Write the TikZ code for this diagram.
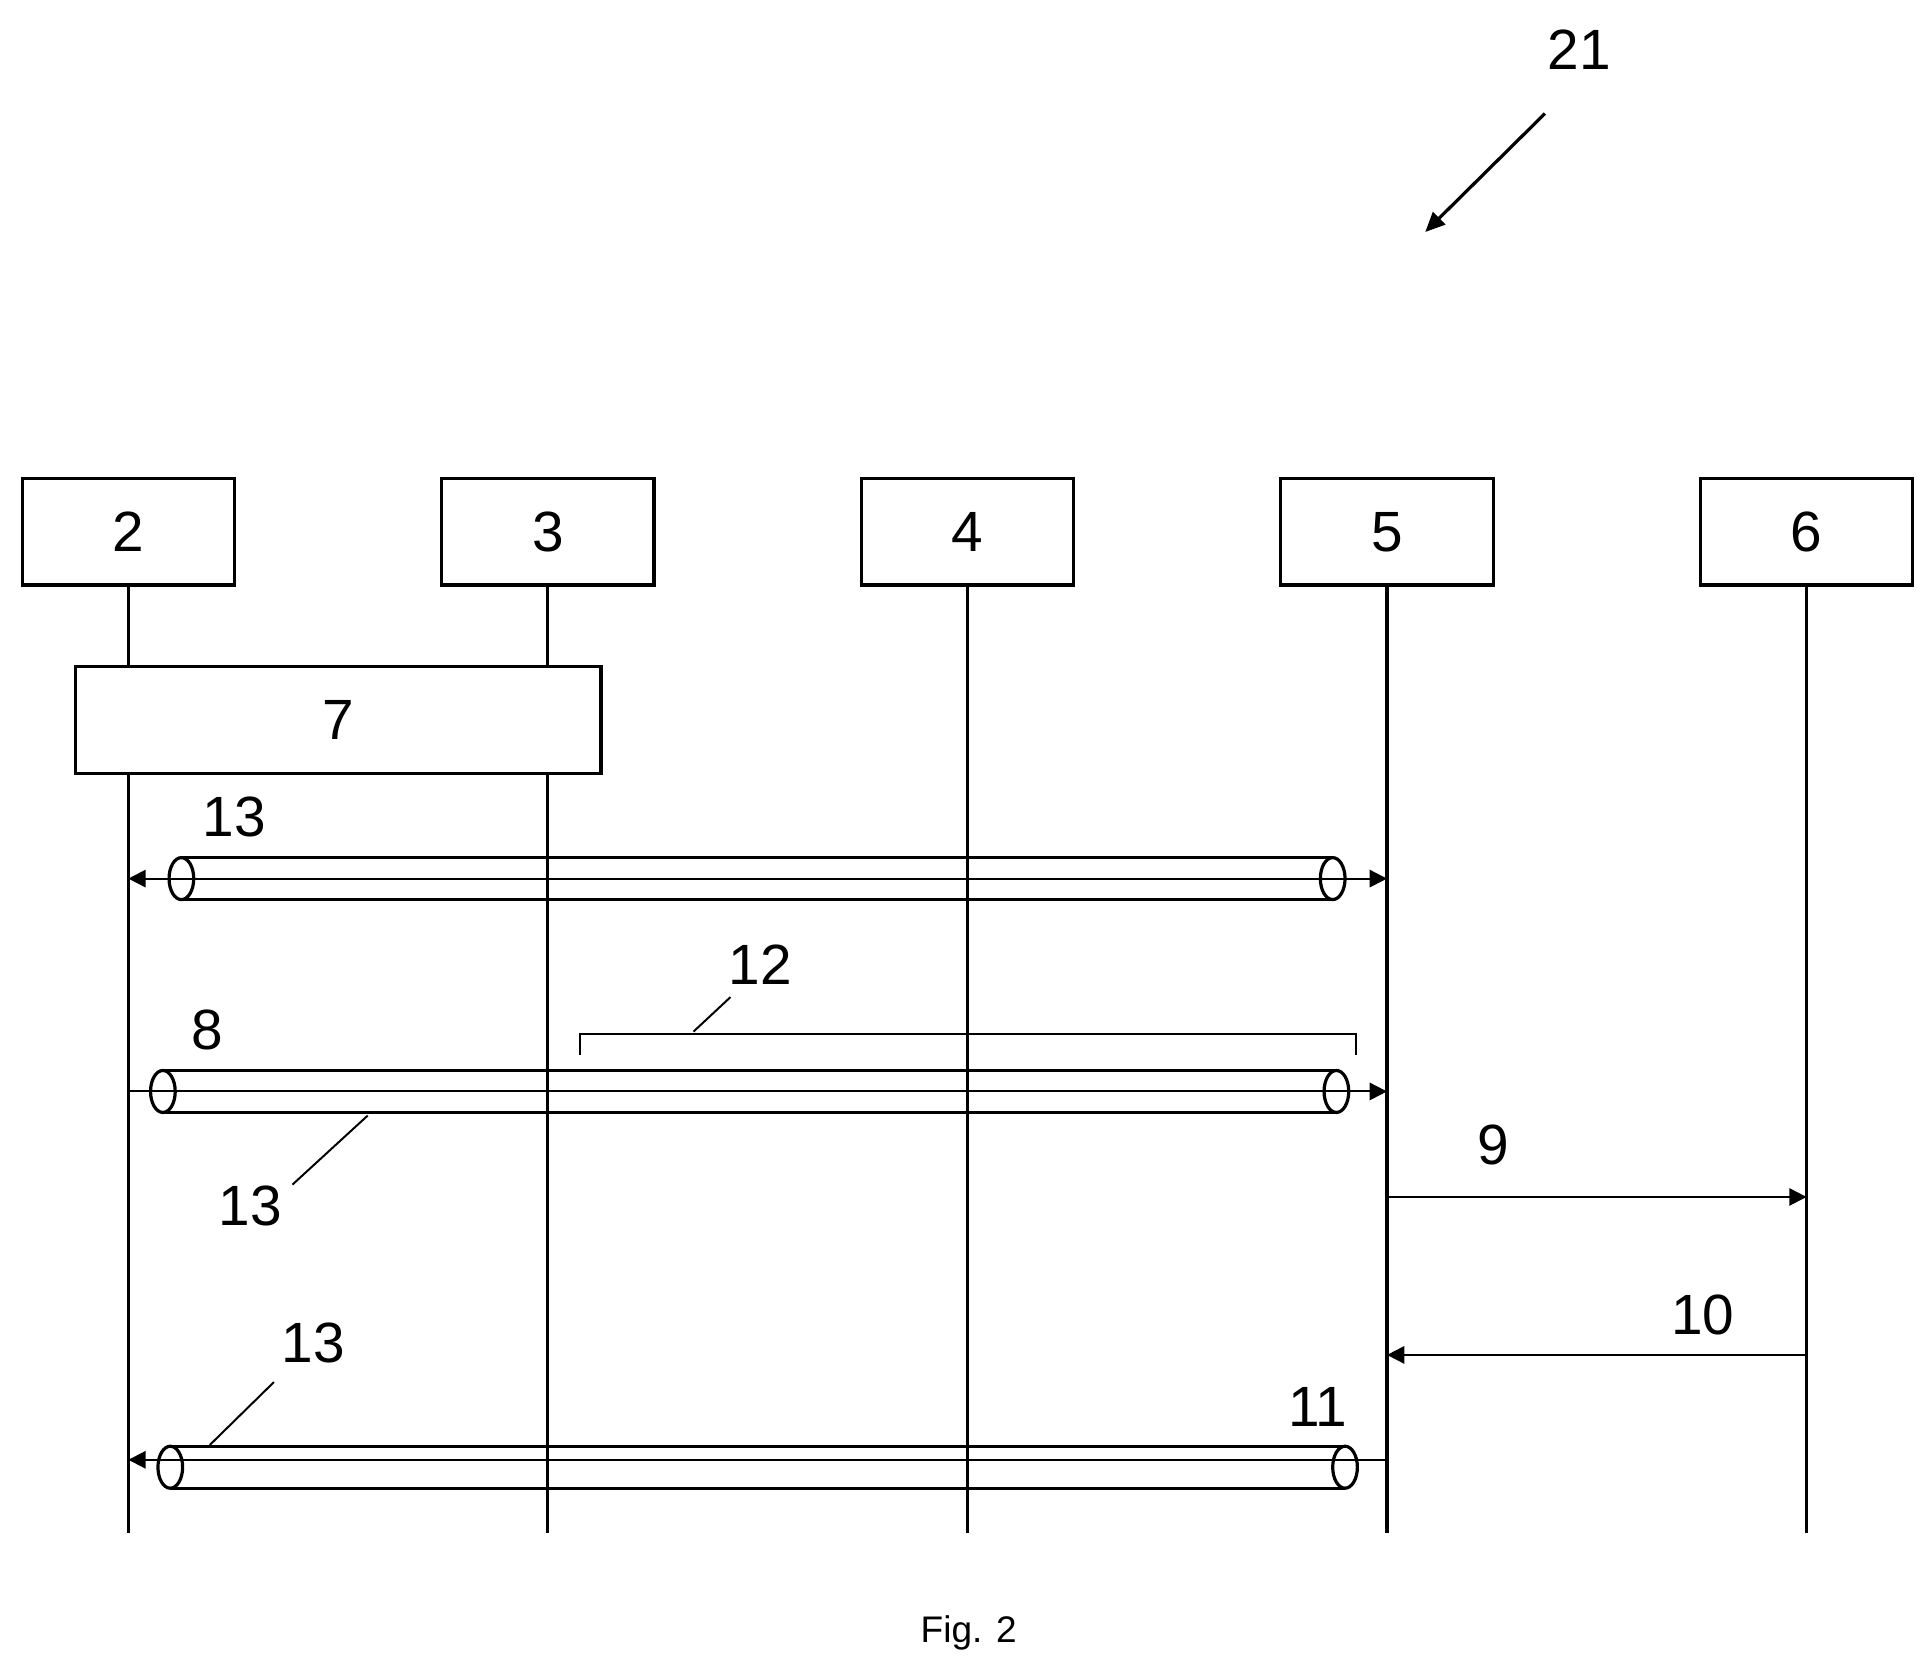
\documentclass[tikz,border=0pt]{standalone}
\usepackage{fontspec}
\setmainfont{Liberation Sans}
\usetikzlibrary{arrows.meta}
\begin{document}
\begin{tikzpicture}[x=1pt,y=-1pt,line width=2.6pt,
  lbl/.style={font=\fontsize{46}{50}\selectfont,inner sep=0},
  box/.style={draw,fill=white,line width=2.6pt,minimum width=172,minimum height=86,inner sep=0,font=\fontsize{46}{50}\selectfont},
  life/.style={line width=2.6pt},
  msg/.style={line width=1.6pt,-{Triangle[length=14,width=14]}},
  thin/.style={line width=1.6pt}]
\useasboundingbox (0,0) rectangle (1560,1352);
\foreach \i/\x in {2/104,3/444,4/784,5/1124,6/1464}{
  \node[box] (b\i) at (\x,431) {\i};
  \coordinate (e\i) at (\x,1242);
  \draw[life] (b\i.south) -- (e\i);
}
\node[box,minimum width=426,minimum height=87] (b7) at (274,583.5) {7};
% cylinders
\newcommand{\mycyl}[4]{% x1 x2 yc ry
  \draw (#1,#3-#4) -- (#2,#3-#4) (#1,#3+#4) -- (#2,#3+#4);
  \draw (#1,#3) ellipse [x radius=10,y radius=#4];
  \draw (#2,#3) ellipse [x radius=10,y radius=#4];}
\mycyl{147}{1080}{712}{17}
\coordinate (m1) at (1124,712);
\coordinate (n1) at (104,712);
\draw[msg,{Triangle[length=14,width=14]}-{Triangle[length=14,width=14]}] (n1) -- (m1);
\node[lbl] (t13a) at (190,662) {13};
\mycyl{132}{1083}{884.5}{17}
\coordinate (n2) at (104,884.5);
\coordinate (m2) at (1124,884.5);
\draw[msg] (n2) -- (m2);
\node[lbl] (t8) at (168,835) {8};
\draw[thin] (470,855) -- (470,838) -- (1099,838) -- (1099,855);
\node[lbl] (t12) at (616,782) {12};
\draw[thin] (562,836) -- (592,808);
\node[lbl] (t13b) at (203,977) {13};
\draw[thin] (237,960) -- (298,904);
\coordinate (a9) at (1124,970);
\coordinate (z9) at (1464,970);
\draw[msg] (a9) -- (z9);
\node[lbl] (t9) at (1210,928) {9};
\coordinate (a10) at (1464,1098);
\coordinate (z10) at (1124,1098);
\draw[msg] (a10) -- (z10);
\node[lbl] (t10) at (1380,1066) {10};
\mycyl{138}{1090}{1189}{17}
\coordinate (a11) at (1124,1183);
\coordinate (z11) at (104,1183);
\draw[msg] (a11) -- (z11);
\node[lbl] (t11) at (1068,1140) {11};
\node[lbl] (t13c) at (254,1088) {13};
\draw[thin] (170,1171) -- (222,1120);
\node[lbl] (t21) at (1280,40) {21};
\coordinate (s21) at (1252,92);
\coordinate (e21) at (1155,188);
\draw[line width=2.6pt,-{Triangle[length=16,width=14]}] (s21) -- (e21);
\node[font=\fontsize{30}{34}\selectfont] (fig) at (785,1323) {Fig. 2};
\end{tikzpicture}
\end{document}
